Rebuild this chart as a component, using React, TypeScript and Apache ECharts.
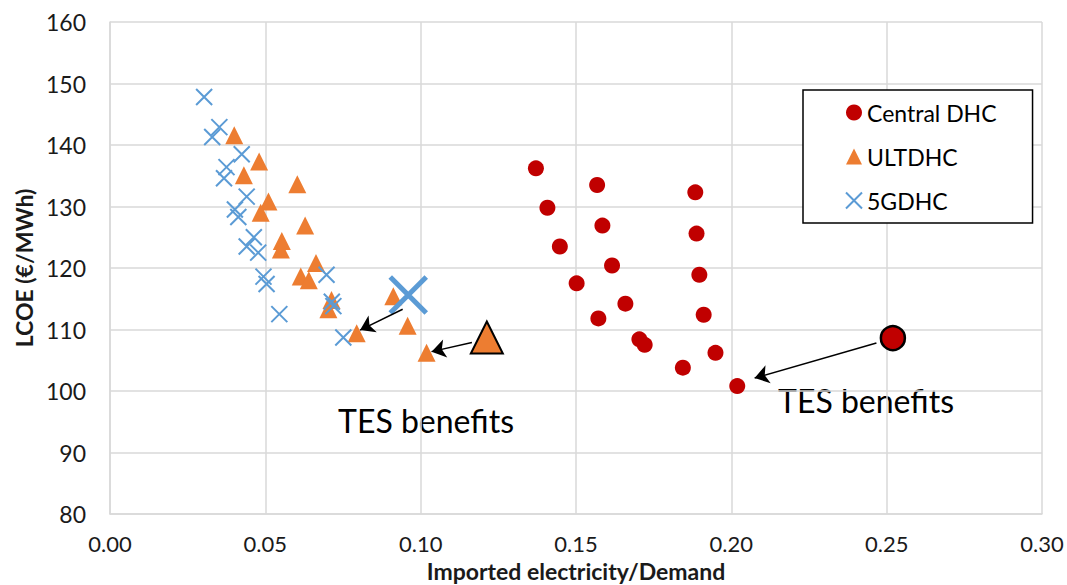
import React, { useEffect, useRef } from "react";
import * as echarts from "echarts";

const FONT = "Lato, 'Noto Sans', sans-serif";

const xTicks = { min: 0, max: 0.3, interval: 0.05 };
const yTicks = { min: 80, max: 160, interval: 10 };

const centralDHC: [number, number][] = [
  [0.1371, 136.2], [0.1568, 133.5], [0.1884, 132.3], [0.1408, 129.8],
  [0.1585, 126.9], [0.1888, 125.6], [0.1448, 123.5], [0.1616, 120.4],
  [0.1897, 118.9], [0.1502, 117.5], [0.1659, 114.2], [0.1572, 111.8],
  [0.1911, 112.4], [0.1704, 108.4], [0.1721, 107.5], [0.1949, 106.2],
  [0.1844, 103.8], [0.2019, 100.8],
];

const ultDHC: [number, number][] = [
  [0.04, 141.6], [0.048, 137.3], [0.0431, 135.1], [0.0603, 133.6],
  [0.051, 130.8], [0.0485, 129.0], [0.0628, 126.9], [0.0553, 124.4],
  [0.055, 123.0], [0.0663, 120.8], [0.0614, 118.6], [0.064, 118.0],
  [0.0713, 114.8], [0.0703, 113.3], [0.0912, 115.4], [0.0958, 110.6],
  [0.0794, 109.4], [0.1019, 106.2],
];

const gDHC5: [number, number][] = [
  [0.0303, 147.8], [0.0352, 142.9], [0.0329, 141.3], [0.0424, 138.5],
  [0.0375, 136.4], [0.0367, 134.6], [0.044, 131.6], [0.0402, 129.5],
  [0.0413, 128.3], [0.0463, 125.0], [0.044, 123.5], [0.0477, 122.5],
  [0.0494, 118.6], [0.0504, 117.4], [0.0545, 112.5], [0.0697, 118.9],
  [0.0719, 113.8], [0.0714, 114.5], [0.0751, 108.7],
];

// highlighted cases without TES
const centralNoTES: [number, number][] = [[0.252, 108.6]];
const ultNoTES: [number, number][] = [[0.1213, 108.7]];
const g5NoTES: [number, number][] = [[0.096, 115.6]];

// arrows: [from, to]
const arrows: [[number, number], [number, number]][] = [
  [[0.0942, 113.3], [0.0805, 109.9]],
  [[0.1165, 107.9], [0.1035, 106.4]],
  [[0.2467, 107.8], [0.2075, 102.1]],
];

const annotations = [
  { text: "TES benefits", left: 338, top: 404 },
  { text: "TES benefits", left: 778, top: 384 },
];

const CROSS = "path://M0,0L10,10M10,0L0,10";
const RED = "#C00000";
const ORANGE = "#ED7D31";
const BLUE = "#5B9BD5";

export default function App() {
  const ref = useRef<HTMLDivElement>(null);
  useEffect(() => {
    if (!ref.current) return;
    const chart = echarts.init(ref.current, undefined, { renderer: "svg" });
    const gridLine = { color: "#d9d9d9", width: 1.5 };
    chart.setOption({
      animation: false,
      textStyle: { fontFamily: FONT },
      grid: { left: 110, right: 25, top: 22, bottom: 71, containLabel: false, outerBoundsMode: "none" },
      xAxis: {
        type: "value",
        ...xTicks,
        axisLine: { show: true, lineStyle: gridLine },
        axisTick: { show: false },
        splitLine: { show: true, lineStyle: gridLine },
        axisLabel: {
          formatter: (v: number) => v.toFixed(2),
          fontSize: 22,
          lineHeight: 22,
          color: "#1a1a1a",
          margin: 18,
          fontFamily: FONT,
        },
        name: "Imported electricity/Demand",
        nameLocation: "middle",
        nameGap: 45,
        nameMoveOverlap: false,
        nameTextStyle: { fontWeight: "bold", fontSize: 23, lineHeight: 23, color: "#1a1a1a", fontFamily: FONT },
      },
      yAxis: {
        type: "value",
        ...yTicks,
        axisLine: { show: true, lineStyle: gridLine },
        axisTick: { show: false },
        splitLine: { show: true, lineStyle: gridLine },
        axisLabel: { fontSize: 23, color: "#1a1a1a", margin: 24, fontFamily: FONT },
        name: "LCOE (€/MWh)",
        nameLocation: "middle",
        nameGap: 75,
        nameMoveOverlap: false,
        nameTextStyle: { fontWeight: "bold", fontSize: 23, color: "#1a1a1a", fontFamily: FONT },
      },
      legend: {
        data: ["Central DHC", "ULTDHC", "5GDHC"],
        orient: "vertical",
        left: 803,
        top: 90,
        padding: [11, 36, 11, 42],
        itemGap: 21,
        itemWidth: 16,
        itemHeight: 16,
        borderColor: "#000",
        borderWidth: 1.5,
        borderRadius: 0,
        backgroundColor: "#fff",
        textStyle: { fontSize: 23, lineHeight: 23, color: "#000", fontFamily: FONT },
      },
      series: [
        {
          name: "Central DHC",
          type: "scatter",
          data: centralDHC,
          symbol: "circle",
          symbolSize: 16,
          itemStyle: { color: RED, opacity: 1 },
        },
        {
          name: "ULTDHC",
          type: "scatter",
          data: ultDHC,
          symbol: "triangle",
          symbolSize: 18,
          itemStyle: { color: ORANGE, opacity: 1 },
        },
        {
          name: "5GDHC",
          type: "scatter",
          data: gDHC5,
          symbol: CROSS,
          symbolSize: 16,
          itemStyle: { color: "rgba(0,0,0,0)", borderColor: BLUE, borderWidth: 2, opacity: 1 },
        },
        {
          name: "Central no TES",
          type: "scatter",
          data: centralNoTES,
          symbol: "circle",
          symbolSize: 24,
          itemStyle: { color: RED, borderColor: "#000", borderWidth: 2.5, opacity: 1 },
        },
        {
          name: "ULT no TES",
          type: "scatter",
          data: ultNoTES,
          symbol: "triangle",
          symbolSize: 32,
          itemStyle: { color: ORANGE, borderColor: "#000", borderWidth: 2, opacity: 1 },
        },
        {
          name: "5G no TES",
          type: "scatter",
          data: g5NoTES,
          symbol: CROSS,
          symbolSize: 36,
          itemStyle: { color: "rgba(0,0,0,0)", borderColor: BLUE, borderWidth: 5, opacity: 1 },
          markLine: {
            silent: true,
            symbol: ["none", "arrow"],
            symbolSize: 14,
            label: { show: false },
            lineStyle: { color: "#000", width: 1.5, type: "solid", opacity: 1 },
            emphasis: { disabled: true },
            data: arrows.map(([a, b]) => [{ coord: a }, { coord: b }]),
          },
        },
      ],
      graphic: annotations.map((a) => ({
        type: "text",
        left: a.left,
        top: a.top,
        style: { text: a.text, fontSize: 32, fill: "#000", fontFamily: FONT },
      })),
    });
    return () => chart.dispose();
  }, []);
  return (
    <div
      ref={ref}
      style={{ position: "fixed", left: 0, top: 0, width: 1067, height: 585, background: "#fff" }}
    />
  );
}
